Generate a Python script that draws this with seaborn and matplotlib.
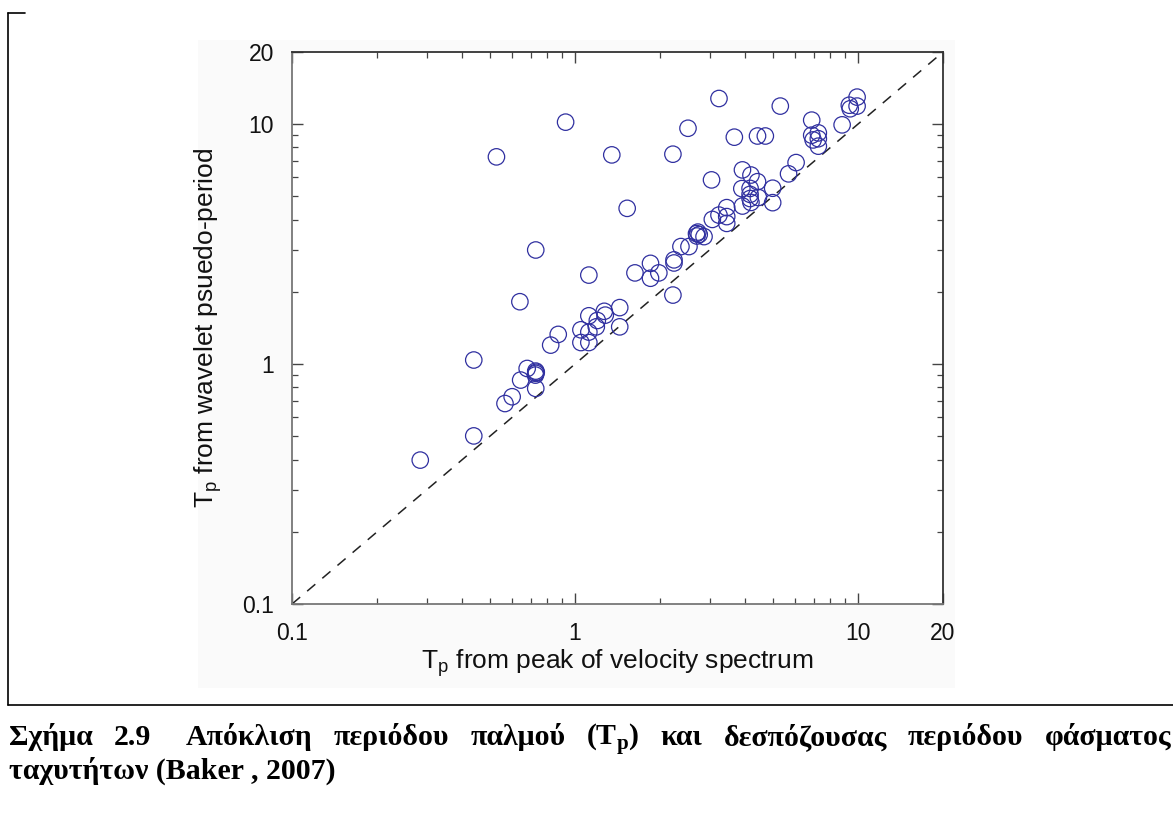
import numpy as np
import pandas as pd
import matplotlib
matplotlib.use("Agg")
import matplotlib.pyplot as plt
import seaborn as sns
from matplotlib.ticker import FixedLocator, FixedFormatter, LogLocator, NullFormatter
from matplotlib.lines import Line2D
from matplotlib.patches import Rectangle

# ---------------- data ----------------
tp_spectrum = [0.284, 0.439, 0.439, 0.566, 0.600, 0.643, 0.678, 0.727, 0.727, 0.725,
               0.730, 0.727, 0.639, 0.727, 0.528, 0.927, 0.821, 0.873, 1.05, 1.05,
               1.12, 1.12, 1.12, 1.12, 1.19, 1.20, 1.27, 1.28, 1.44, 1.44,
               1.35, 1.53, 1.63, 1.85, 1.85, 1.98, 2.22, 2.24, 2.24, 2.22,
               2.37, 2.53, 2.51, 2.69, 2.72, 2.70, 2.86, 2.75, 3.04, 3.23,
               3.06, 3.44, 3.44, 3.44, 3.23, 3.66, 3.91, 4.19, 4.42, 3.89,
               4.16, 4.16, 4.45, 4.16, 3.91, 4.19, 5.00, 5.00, 4.42, 4.71,
               5.32, 5.69, 6.05, 6.87, 6.87, 7.25, 7.25, 7.25, 6.95, 8.80,
               9.33, 9.94, 9.94, 9.40]
tp_wavelet = [0.398, 0.502, 1.04, 0.685, 0.731, 0.858, 0.959, 0.935, 0.915, 0.900,
              0.925, 0.792, 1.82, 2.99, 7.31, 10.2, 1.20, 1.33, 1.39, 1.23,
              1.36, 1.23, 1.59, 2.35, 1.43, 1.52, 1.66, 1.60, 1.72, 1.43,
              7.45, 4.46, 2.40, 2.63, 2.28, 2.40, 1.94, 2.72, 2.64, 7.50,
              3.09, 3.09, 9.62, 3.50, 3.55, 3.42, 3.40, 3.47, 5.86, 4.18,
              4.01, 4.12, 3.86, 4.49, 12.8, 8.83, 6.45, 6.14, 5.76, 5.39,
              5.40, 5.10, 4.95, 4.90, 4.56, 4.72, 5.41, 4.71, 8.93, 8.93,
              11.9, 6.21, 6.92, 10.4, 9.00, 9.20, 8.70, 8.10, 8.60, 9.94,
              12.0, 12.97, 11.9, 11.6]
diag_line = [0.1, 20]
tick_values = [0.1, 1, 10, 20]
tick_labels = ["0.1", "1", "10", "20"]
x_label = r"T$_\mathrm{p}$ from peak of velocity spectrum"
y_label = r"T$_\mathrm{p}$ from wavelet psuedo-period"
caption_line1 = r"Σχήμα 2.9 Απόκλιση περιόδου παλμού (T$_\mathbf{p}$) και δεσπόζουσας περιόδου φάσματος"
caption_line2 = "ταχυτήτων (Baker , 2007)"

df = pd.DataFrame({"spectrum": tp_spectrum, "wavelet": tp_wavelet})

# ---------------- style ----------------
sns.set_theme(style="ticks")
plt.rcParams["font.family"] = ["Liberation Sans", "DejaVu Sans"]
plt.rcParams["mathtext.fontset"] = "custom"
plt.rcParams["mathtext.rm"] = "Liberation Sans"
plt.rcParams["mathtext.bf"] = "Liberation Serif:bold"

W, H = 1173, 816
fig = plt.figure(figsize=(W / 100, H / 100), dpi=100)
fig.patch.set_facecolor("white")

# faint background of the embedded picture
fig.add_artist(Rectangle((198 / W, 1 - 688 / H), 757 / W, 648 / H,
                         transform=fig.transFigure, facecolor="#fafafa",
                         edgecolor="none", zorder=0))

ax = fig.add_axes([292 / W, 1 - 604 / H, 651 / W, 552 / H])
ax.set_facecolor("white")

sns.scatterplot(data=df, x="spectrum", y="wavelet", ax=ax, s=140,
                marker="o", legend=False, zorder=3)
coll = ax.collections[0]
coll.set_facecolor("none")
coll.set_edgecolor("#3030a0")
coll.set_linewidth(0.9)

ax.plot(diag_line, diag_line, color="#222222", lw=1.1, ls=(0, (7, 6)), zorder=2)

ax.set_xscale("log")
ax.set_yscale("log")
ax.set_xlim(0.1, 20)
ax.set_ylim(0.1, 20)

for axis in (ax.xaxis, ax.yaxis):
    axis.set_major_locator(FixedLocator(tick_values))
    axis.set_major_formatter(FixedFormatter(tick_labels))
    axis.set_minor_locator(LogLocator(base=10, subs=np.arange(2, 10)))
    axis.set_minor_formatter(NullFormatter())

ax.tick_params(which="both", direction="in", top=True, right=True,
               color="#444444", labelcolor="#111111")
ax.tick_params(which="major", length=8, width=1.0, labelsize=16.5, pad=13)
ax.tick_params(which="minor", length=4, width=0.9)
for sp in ax.spines.values():
    sp.set_color("#777777")
    sp.set_linewidth(1.3)
ax.spines["top"].set_color("#333333")
ax.spines["right"].set_color("#333333")

ax.set_xlabel(x_label, fontsize=19, color="#111111")
ax.set_ylabel(y_label, fontsize=19, color="#111111")
ax.xaxis.set_label_coords(0.5, -0.077)
ax.yaxis.set_label_coords(-0.104, 0.5)

# ---------------- document frame ----------------
fr = dict(transform=fig.transFigure, color="black", lw=1.2)
fig.add_artist(Line2D([8 / W, 8 / W], [1 - 13 / H, 1 - 705 / H], **fr))
fig.add_artist(Line2D([8 / W, 25 / W], [1 - 13 / H, 1 - 13 / H], **fr))
fig.add_artist(Line2D([8 / W, 1.0], [1 - 705 / H, 1 - 705 / H], **fr))

# ---------------- caption (justified first line) ----------------
cap_font = dict(family=["Liberation Serif", "DejaVu Serif"], weight="bold",
                fontsize=21.5, color="black", va="baseline", ha="left")
words = caption_line1.split(" ")
texts = [fig.text(0, 1 - 745 / H, w_, **cap_font) for w_ in words]
fig.canvas.draw()
renderer = fig.canvas.get_renderer()
widths = [t.get_window_extent(renderer).width for t in texts]
left_px, right_px = 9, 1171
extra = 14  # wider gap after the figure number
gap = (right_px - left_px - sum(widths) - extra) / (len(words) - 1)
xpos = left_px
for i, (t, w_) in enumerate(zip(texts, widths)):
    t.set_x(xpos / W)
    xpos += w_ + gap + (extra if i == 1 else 0)
fig.text(9 / W, 1 - 779 / H, caption_line2, **cap_font)

fig.savefig("out.png", dpi=100)
